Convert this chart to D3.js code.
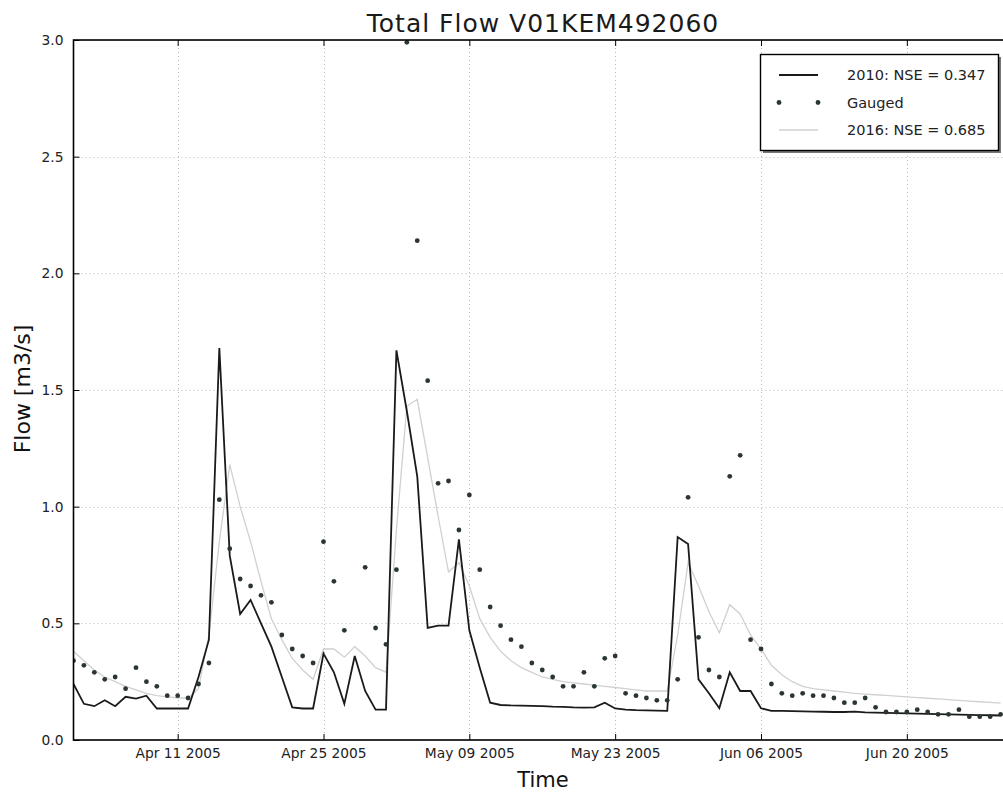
<!DOCTYPE html>
<html><head><meta charset="utf-8">
<script src="https://cdn.jsdelivr.net/npm/d3@7"></script>
<style>
body{margin:0;background:#fff;}
svg{display:block;}
</style></head>
<body>
<svg id="c" width="1003" height="794"></svg>
<script>
// ---- data ----
const startDate = "2005-04-01";
const endDate = "2005-06-30";
const sim2010 = [0.24,0.155,0.145,0.17,0.145,0.185,0.177,0.19,0.135,0.135,
0.135,0.135,0.27,0.43,1.68,0.79,0.54,0.60,0.50,0.40,
0.27,0.14,0.135,0.135,0.37,0.29,0.155,0.36,0.21,0.13,
0.13,1.67,1.41,1.13,0.48,0.49,0.49,0.86,0.47,0.31,
0.16,0.150,0.148,0.147,0.146,0.145,0.143,0.142,0.140,0.139,
0.140,0.16,0.135,0.13,0.128,0.127,0.126,0.125,0.87,0.84,
0.26,0.20,0.136,0.29,0.21,0.21,0.136,0.125,0.125,0.124,
0.123,0.122,0.121,0.120,0.120,0.122,0.118,0.117,0.116,0.115,
0.114,0.113,0.112,0.111,0.110,0.109,0.108,0.107,0.106,0.105];
const gauged = [0.34,0.32,0.29,0.26,0.27,0.22,0.31,0.25,0.23,0.19,
0.19,0.18,0.24,0.33,1.03,0.82,0.69,0.66,0.62,0.59,
0.45,0.39,0.36,0.33,0.85,0.68,0.47,null,0.74,0.48,
0.41,0.73,2.99,2.14,1.54,1.10,1.11,0.90,1.05,0.73,
0.57,0.49,0.43,0.40,0.33,0.30,0.27,0.23,0.23,0.29,
0.23,0.35,0.36,0.20,0.19,0.18,0.17,0.17,0.26,1.04,
0.44,0.30,0.27,1.13,1.22,0.43,0.39,0.24,0.20,0.19,
0.20,0.19,0.19,0.18,0.16,0.16,0.18,0.14,0.12,0.12,
0.12,0.13,0.12,0.11,0.11,0.13,0.10,0.10,0.10,0.11];
const sim2016 = [0.38,0.34,0.30,0.27,0.25,0.23,0.215,0.20,0.19,0.185,
0.18,0.18,0.22,0.45,0.85,1.18,1.00,0.85,0.68,0.52,
0.43,0.35,0.30,0.26,0.39,0.39,0.355,0.40,0.36,0.31,
0.29,0.90,1.43,1.46,1.21,0.96,0.72,0.76,0.66,0.52,
0.44,0.38,0.34,0.31,0.29,0.27,0.26,0.25,0.245,0.24,
0.235,0.23,0.225,0.22,0.215,0.21,0.21,0.21,0.45,0.76,
0.66,0.55,0.46,0.58,0.54,0.45,0.39,0.32,0.28,0.25,
0.23,0.22,0.215,0.21,0.205,0.20,0.197,0.194,0.191,0.188,
0.185,0.182,0.179,0.176,0.173,0.170,0.167,0.164,0.161,0.158];
const xTickDates = ["2005-04-11","2005-04-25","2005-05-09","2005-05-23","2005-06-06","2005-06-20"];
const yTicks = [0.0,0.5,1.0,1.5,2.0,2.5,3.0];
const legendLabels = ["2010: NSE = 0.347","Gauged","2016: NSE = 0.685"];
const titleText = "Total Flow V01KEM492060";

// ---- layout ----
const parse = d3.utcParse("%Y-%m-%d");
const dates = d3.utcDays(parse(startDate), parse(endDate));
const L = 73.5, R = 1011, T = 40, B = 740;
const x = d3.scaleUtc().domain([parse(startDate), parse(endDate)]).range([L, R]);
const y = d3.scaleLinear().domain([0, 3]).range([B, T]);
const svg = d3.select("#c");
const fmt = d3.utcFormat("%b %d %Y");

svg.append("defs").append("clipPath").attr("id","clip")
  .append("rect").attr("x",L).attr("y",T).attr("width",R-L).attr("height",B-T);

// grid
const grid = svg.append("g").attr("stroke","#b8b8b8").attr("stroke-width",1).attr("stroke-dasharray","1,3");
xTickDates.forEach(s => {
  const px = Math.round(x(parse(s))) + 0.5;
  grid.append("line").attr("x1",px).attr("x2",px).attr("y1",T).attr("y2",B);
});
yTicks.forEach(v => {
  const py = Math.round(y(v)) + 0.5;
  grid.append("line").attr("x1",L).attr("x2",R).attr("y1",py).attr("y2",py);
});

const plot = svg.append("g").attr("clip-path","url(#clip)");
const line = d3.line().defined(d => d[1] != null).x(d => x(d[0])).y(d => y(d[1]));
plot.append("path").datum(dates.map((d,i)=>[d,sim2016[i]]))
  .attr("d",line).attr("fill","none").attr("stroke","#d0d0d0").attr("stroke-width",1.3);
plot.append("path").datum(dates.map((d,i)=>[d,sim2010[i]]))
  .attr("d",line).attr("fill","none").attr("stroke","#1a1a1a").attr("stroke-width",1.8);
plot.selectAll("circle.g").data(dates.map((d,i)=>[d,gauged[i]]).filter(d=>d[1]!=null))
  .enter().append("circle").attr("class","g")
  .attr("cx",d=>x(d[0])).attr("cy",d=>y(d[1])).attr("r",2.4).attr("fill","#2b3535");

// axes
const tickFont = "DejaVu Sans, sans-serif";
const xa = svg.append("g").attr("transform",`translate(0,${B})`)
  .call(d3.axisBottom(x).tickValues(xTickDates.map(parse)).tickFormat(fmt).tickSize(-6).tickPadding(8));
const xt = svg.append("g").attr("transform",`translate(0,${T})`)
  .call(d3.axisTop(x).tickValues(xTickDates.map(parse)).tickFormat("").tickSize(-6));
const ya = svg.append("g").attr("transform",`translate(${L},0)`)
  .call(d3.axisLeft(y).tickValues(yTicks).tickFormat(d3.format(".1f")).tickSize(-6).tickPadding(10));
[xa,xt,ya].forEach(g=>{
  g.select(".domain").remove();
  g.selectAll(".tick line").attr("stroke","#000").attr("stroke-width",1);
  g.selectAll("text").attr("font-family",tickFont).attr("font-size",13.8).attr("fill","#222");
});

// frame
svg.append("rect").attr("x",L).attr("y",T).attr("width",R-L).attr("height",B-T)
  .attr("fill","none").attr("stroke","#000").attr("stroke-width",1.6);

// title & labels
const labFont = "DejaVu Sans, sans-serif";
svg.append("text").attr("x",543).attr("y",32).attr("text-anchor","middle")
  .attr("font-family",labFont).attr("font-size",25).attr("letter-spacing",1)
  .attr("fill","#1a1a1a").text(titleText);
svg.append("text").attr("x",543).attr("y",787).attr("text-anchor","middle")
  .attr("font-family",labFont).attr("font-size",21).attr("fill","#111").text("Time");
svg.append("text").attr("transform","translate(30,389) rotate(-90)").attr("text-anchor","middle")
  .attr("font-family",labFont).attr("font-size",22).attr("fill","#111").text("Flow [m3/s]");

// legend
const lg = svg.append("g");
lg.append("rect").attr("x",763).attr("y",57).attr("width",238).attr("height",96).attr("fill","#777");
lg.append("rect").attr("x",760.5).attr("y",54.5).attr("width",238).attr("height",96)
  .attr("fill","#fff").attr("stroke","#000").attr("stroke-width",1.4);
const rows = [75, 102.5, 130];
lg.append("line").attr("x1",779).attr("x2",818).attr("y1",rows[0]).attr("y2",rows[0])
  .attr("stroke","#1a1a1a").attr("stroke-width",1.8);
[779,818].forEach(cx => lg.append("circle").attr("cx",cx).attr("cy",rows[1]).attr("r",2.4).attr("fill","#2b3535"));
lg.append("line").attr("x1",779).attr("x2",818).attr("y1",rows[2]).attr("y2",rows[2])
  .attr("stroke","#d0d0d0").attr("stroke-width",1.3);
legendLabels.forEach((t,i)=>{
  lg.append("text").attr("x",847).attr("y",rows[i]+5).attr("font-family",tickFont)
    .attr("font-size",14.5).attr("fill","#222").text(t);
});
</script>
</body></html>
